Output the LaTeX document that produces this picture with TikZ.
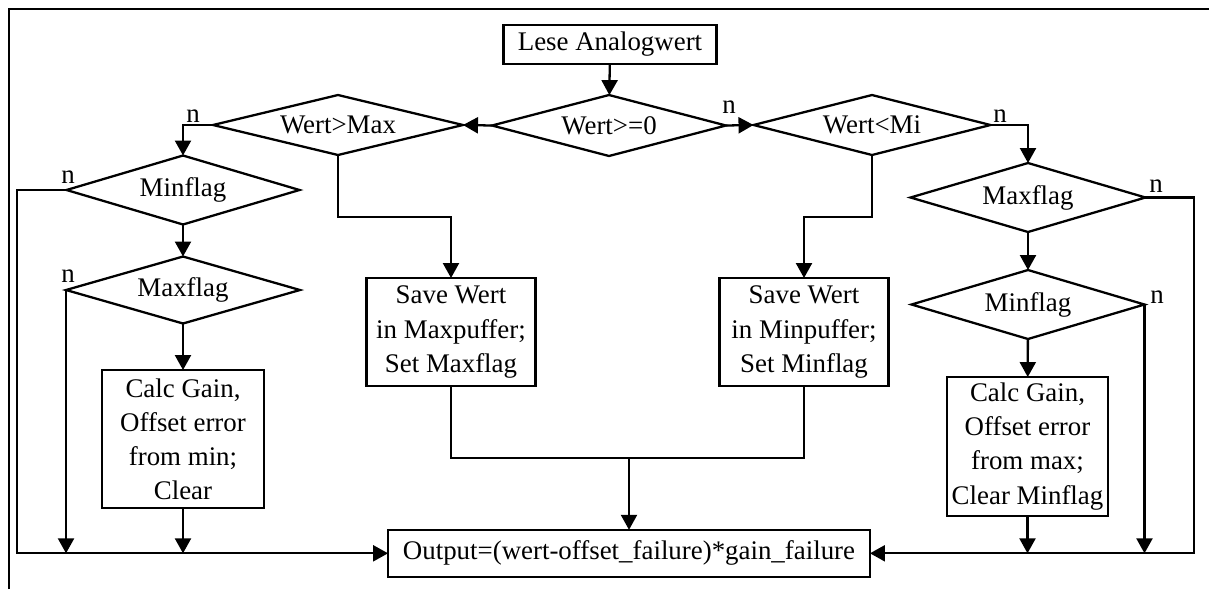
\documentclass[tikz,border=0pt]{standalone}
\usepackage{fontspec}
\setmainfont{Liberation Serif}
\usetikzlibrary{shapes.geometric, arrows.meta}
\tikzstyle{block}=[rectangle, draw, inner sep=0pt, outer sep=0pt, align=center, font=\fontsize{15.3}{19.4}\selectfont]
\tikzstyle{decision}=[diamond, draw, aspect=4, inner sep=0pt, outer sep=0pt, font=\fontsize{15.3}{19.4}\selectfont]
\tikzstyle{lbl}=[inner sep=0pt, anchor=base, font=\fontsize{15.3}{19.4}\selectfont]

\begin{document}
\begin{tikzpicture}[x=0.02cm, y=-0.02cm, line width=1.3pt, >={Triangle[length=0.3cm, width=0.32cm]}]
                    \useasboundingbox (0,0) rectangle (1209,589);
                    \draw (9,589) -- (9,9) -- (1209,9);
                    % top row
                    \node[block, minimum width=4.26cm, minimum height=0.78cm] (lese) at (610, 44.5) {Lese Analogwert};
                    \node[decision, minimum width=4.68cm, minimum height=1.22cm] (d0)   at (609, 125.5) {Wert>=0};
                    \node[decision, minimum width=5cm,    minimum height=1.2cm]  (dmax) at (338, 125) {Wert>Max};
                    \node[decision, minimum width=4.74cm, minimum height=1.2cm]  (dmin) at (872, 125) {Wert<Mi};
                    % left column
                    \node[decision, minimum width=4.66cm, minimum height=1.38cm] (minfl1) at (183, 190) {Minflag};
                    \node[decision, minimum width=4.68cm, minimum height=1.34cm] (maxfl1) at (183, 290) {Maxflag};
                    \node[block, minimum width=3.24cm, minimum height=2.76cm] (calc1) at (183, 439) {Calc Gain,\\Offset error\\from min;\\Clear};
                    % middle
                    \node[block, minimum width=3.38cm, minimum height=2.16cm] (save1) at (451, 332) {Save Wert\\in Maxpuffer;\\Set Maxflag};
                    \node[block, minimum width=3.38cm, minimum height=2.16cm] (save2) at (804, 332) {Save Wert\\in Minpuffer;\\Set Minflag};
                    \node[block, minimum width=9.64cm, minimum height=0.94cm] (out) at (629, 553.3) {Output=(wert-offset\_failure)*gain\_failure};
                    % right column
                    \node[decision, minimum width=4.7cm,  minimum height=1.38cm] (maxfl2) at (1028, 197.5) {Maxflag};
                    \node[decision, minimum width=4.66cm, minimum height=1.38cm] (minfl2) at (1028, 304.5) {Minflag};
                    \node[block, minimum width=3.22cm, minimum height=2.78cm] (calc2) at (1027.5, 446.5) {Calc Gain,\\Offset error\\from max;\\Clear Minflag};
                    % "n" labels
                    \node[lbl] (n0) at (729, 113) {n};
                    \node[lbl] (n1) at (193, 122) {n};
                    \node[lbl] (n2) at (1000, 122) {n};
                    \node[lbl] (n3) at (68, 183) {n};
                    \node[lbl] (n4) at (68, 282) {n};
                    \node[lbl] (n5) at (1156, 192) {n};
                    \node[lbl] (n6) at (1157, 303) {n};
                    % helper points
                    \coordinate (railL) at (17, 0);
                    \coordinate (railR) at (1194, 0);
                    \coordinate (jog)   at (0, 217);
                    \coordinate (join)  at (629, 458);
                    % connectors
                    \draw[->] (lese) -- (d0);
                    \draw[->] (d0.west) -- (dmax.east);
                    \draw[->] (d0.east) -- (dmin.west);
                    \draw[->] (dmax.west) -| (minfl1.north);
                    \draw[->] (minfl1) -- (maxfl1);
                    \draw[->] (maxfl1) -- (calc1);
                    \draw[->] (minfl1.west) -- (minfl1.west -| railL) |- (out.west);
                    \draw[->] (maxfl1.west) -- (maxfl1.west |- out.west);
                    \draw[->] (calc1.south) -- (calc1.south |- out.west);
                    \draw[->] (dmax.south) -- (dmax.south |- jog) -| (save1.north);
                    \draw[->] (dmin.south) -- (dmin.south |- jog) -| (save2.north);
                    \draw (save1.south) |- (join) -| (save2.south);
                    \draw[->] (join) -- (out.north);
                    \draw[->] (dmin.east) -| (maxfl2.north);
                    \draw[->] (maxfl2) -- (minfl2);
                    \draw[->] (minfl2) -- (calc2);
                    \draw[->] (maxfl2.east) -- (maxfl2.east -| railR) |- (out.east);
                    \draw[->] (minfl2.east) -- (minfl2.east |- out.east);
                    \draw[->] (calc2.south) -- (calc2.south |- out.east);
                \end{tikzpicture}
\end{document}
